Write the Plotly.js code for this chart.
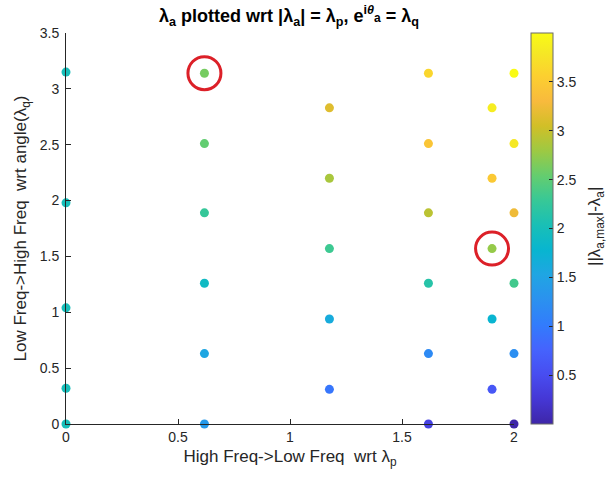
<!DOCTYPE html>
<html>
<head>
<meta charset="utf-8">
<script src="https://cdn.plot.ly/plotly-3.0.1.min.js"></script>
<style>html,body{margin:0;padding:0;background:#fff;}#chart{width:608px;height:484px;}</style>
</head>
<body>
<div id="chart"></div>
<script>
// lambda_p columns (x) and lambda_q angles (y), colour = ||lambda_a,max| - lambda_a|
const col0_x = [0, 0, 0, 0, 0];
const col0_y = [0, 0.32, 1.04, 1.98, 3.15];
const col0_c = [2.00, 2.00, 2.00, 2.00, 2.00];

const col1_x = [0.618, 0.618, 0.618, 0.618, 0.618, 0.618];
const col1_y = [0, 0.63, 1.26, 1.89, 2.51, 3.14];
const col1_c = [1.38, 1.54, 1.90, 2.27, 2.53, 2.62];

const col2_x = [1.176, 1.176, 1.176, 1.176, 1.176];
const col2_y = [0.31, 0.94, 1.57, 2.20, 2.83];
const col2_c = [0.95, 1.62, 2.32, 2.85, 3.14];

const col3_x = [1.618, 1.618, 1.618, 1.618, 1.618, 1.618];
const col3_y = [0, 0.63, 1.26, 1.89, 2.51, 3.14];
const col3_c = [0.38, 1.18, 2.15, 2.94, 3.44, 3.62];

const col4_x = [1.902, 1.902, 1.902, 1.902, 1.902];
const col4_y = [0.31, 0.94, 1.57, 2.20, 2.83];
const col4_c = [0.62, 1.77, 2.76, 3.48, 3.85];

const col5_x = [2, 2, 2, 2, 2, 2];
const col5_y = [0, 0.63, 1.26, 1.89, 2.51, 3.14];
const col5_c = [0.00, 1.24, 2.35, 3.24, 3.80, 4.00];

// highlighted (circled) points
const hl_x = [0.618, 1.902];
const hl_y = [3.14, 1.57];

const cbTicks = [0.5, 1, 1.5, 2, 2.5, 3, 3.5];
const xTicks = [0, 0.5, 1, 1.5, 2];
const yTicks = [0, 0.5, 1, 1.5, 2, 2.5, 3, 3.5];

// MATLAB parula
const parula = [
  [0/63, 'rgb(62,38,168)'], [4/63, 'rgb(69,55,213)'], [8/63, 'rgb(72,77,240)'],
  [12/63, 'rgb(69,99,253)'], [16/63, 'rgb(50,124,252)'], [20/63, 'rgb(43,145,239)'],
  [24/63, 'rgb(32,165,227)'], [28/63, 'rgb(8,181,208)'], [32/63, 'rgb(25,191,182)'],
  [36/63, 'rgb(55,200,151)'], [40/63, 'rgb(100,205,111)'], [44/63, 'rgb(157,201,67)'],
  [48/63, 'rgb(209,191,39)'], [52/63, 'rgb(248,186,61)'], [56/63, 'rgb(252,207,48)'],
  [60/63, 'rgb(245,233,36)'], [1, 'rgb(249,251,21)']
];

const xs = [].concat(col0_x, col1_x, col2_x, col3_x, col4_x, col5_x);
const ys = [].concat(col0_y, col1_y, col2_y, col3_y, col4_y, col5_y);
const cs = [].concat(col0_c, col1_c, col2_c, col3_c, col4_c, col5_c);

const font = 'Liberation Sans, Arial, Helvetica, sans-serif';
const dark = '#262626';

const traces = [
  {
    type: 'scatter', mode: 'markers', x: xs, y: ys, cliponaxis: false,
    marker: {
      size: 9, color: cs, colorscale: parula, cmin: 0, cmax: 4,
      showscale: true,
      colorbar: {
        x: 1.038, xanchor: 'left', xpad: 0, thickness: 22,
        y: 0, yanchor: 'bottom', ypad: 0, len: 1.0, lenmode: 'fraction',
        tickvals: cbTicks, ticktext: cbTicks.map(String), ticks: 'inside', ticklen: 4,
        tickcolor: dark, tickfont: {family: font, size: 14, color: dark},
        outlinewidth: 1, outlinecolor: '#6b6b6b'
      }
    },
    showlegend: false, hoverinfo: 'x+y'
  },
  {
    type: 'scatter', mode: 'markers', x: hl_x, y: hl_y, cliponaxis: false,
    marker: {symbol: 'circle-open', size: 33, color: '#dc2028', line: {width: 3, color: '#dc2028'}},
    showlegend: false, hoverinfo: 'skip'
  }
];

const layout = {
  width: 608, height: 484,
  margin: {l: 66, r: 94, t: 33, b: 60},
  paper_bgcolor: '#ffffff', plot_bgcolor: '#ffffff',
  font: {family: font, color: dark},
  title: {
    text: '<b>λ<sub>a</sub> plotted wrt |λ<sub>a</sub>| = λ<sub>p</sub>, e<sup>i<i>θ</i></sup><span style="font-size:12px">a</span> = λ<sub>q</sub></b>',
    font: {family: font, size: 18, color: '#000'},
    x: 289 / 608, xanchor: 'center', xref: 'container', y: 0.968, yanchor: 'middle', yref: 'container'
  },
  xaxis: {
    range: [0, 2], tickvals: xTicks, ticktext: xTicks.map(String),
    ticks: 'inside', ticklen: 5, tickcolor: dark, showline: true, linecolor: dark, linewidth: 1,
    showgrid: false, zeroline: false, tickfont: {family: font, size: 14, color: dark},
    title: {text: 'High Freq->Low Freq  wrt λ<sub>p</sub>', font: {family: font, size: 17, color: dark}, standoff: 6}
  },
  yaxis: {
    range: [0, 3.5], tickvals: yTicks, ticktext: yTicks.map(String),
    ticks: 'inside', ticklen: 5, tickcolor: dark, showline: true, linecolor: dark, linewidth: 1,
    showgrid: false, zeroline: false, tickfont: {family: font, size: 14, color: dark},
    ticklabelstandoff: 3,
    title: {text: 'Low Freq->High Freq  wrt angle(λ<sub>q</sub>)', font: {family: font, size: 17, color: dark}, standoff: 8}
  },
  annotations: [
    {
      text: '||λ<sub>a,max</sub>|-λ<sub>a</sub>|', textangle: -90,
      xref: 'paper', yref: 'paper', x: (596 - 66) / 448, y: (424 - 227) / 391,
      xanchor: 'center', yanchor: 'middle', showarrow: false,
      font: {family: font, size: 17, color: dark}
    }
  ]
};

Plotly.newPlot('chart', traces, layout, {displayModeBar: false, staticPlot: true});
</script>
</body>
</html>
